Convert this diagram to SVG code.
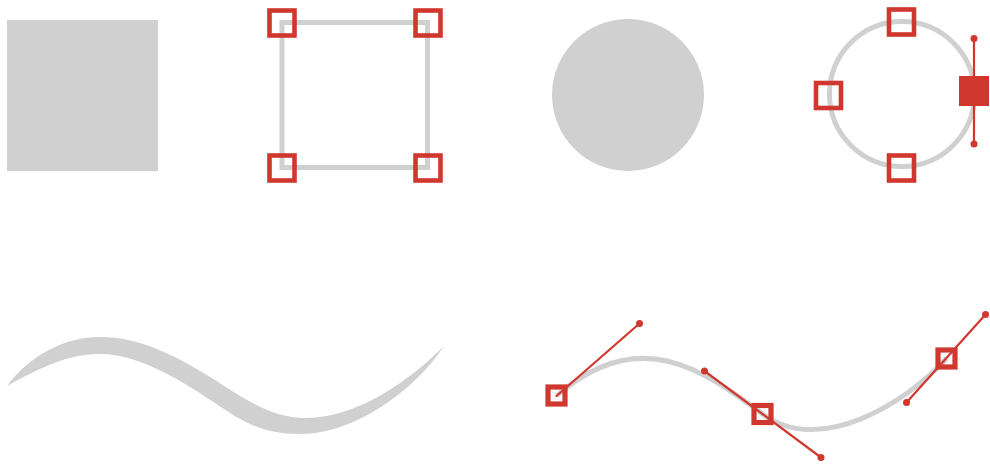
<svg xmlns="http://www.w3.org/2000/svg" width="990" height="464" viewBox="0 0 990 464">
<style>
.fill{fill:#d0d0d0;stroke:none}
.outline{fill:none;stroke:#d0d0d0;stroke-width:5}
.pt{fill:none;stroke:#d0382f;stroke-width:4.6}
.apt{fill:none;stroke:#d0382f;stroke-width:5.2}
.solid{fill:#d0382f;stroke:none}
.handle{stroke:#d0382f;stroke-width:2.2;fill:none;stroke-linecap:round}
.dot{fill:#d0382f}
</style>
<rect width="990" height="464" fill="#fff"/>
<g id="square-filled">
<rect class="fill" x="7" y="20" width="151" height="151"/>
</g>
<g id="square-path">
<rect class="outline" x="282" y="22.5" width="145.5" height="145"/>
<rect class="pt" x="269.5" y="10.5" width="25" height="25"/>
<rect class="pt" x="415.5" y="10.5" width="25" height="25"/>
<rect class="pt" x="269.5" y="155.5" width="25" height="25"/>
<rect class="pt" x="415.5" y="155.5" width="25" height="25"/>
</g>
<g id="circle-filled">
<circle class="fill" cx="628" cy="95" r="76"/>
</g>
<g id="circle-path">
<circle class="outline" cx="902" cy="94" r="72.5"/>
<rect class="pt" x="889" y="9.5" width="25" height="25"/>
<rect class="pt" x="816" y="83" width="25" height="25"/>
<rect class="pt" x="889" y="155.5" width="25" height="25"/>
<line class="handle" x1="974" y1="38.5" x2="974" y2="144"/>
<circle class="dot" cx="974" cy="38.5" r="3.5"/>
<circle class="dot" cx="974" cy="144" r="3.5"/>
<rect class="solid" x="959" y="76" width="30" height="30"/>
</g>
<g id="wave-filled">
<path class="fill" d="M7,386 C30,355 65,337 100,337 C140,337 175,355 215,380 C250,403 275,418 305,418 C350,418 400,390 444,346 C415,390 355,434 300,434 C260,434 240,420 215,403 C185,383 140,354 100,354 C70,354 45,365 7,386 Z"/>
</g>
<g id="wave-path">
<path class="outline" d="M556.5,396 C639,323 705,371 762.5,414 C821,457 907,402 946.5,358.5"/>
</g>
<g id="handles">
<line class="handle" x1="556.5" y1="396" x2="639.5" y2="323.5"/>
<circle class="dot" cx="639.5" cy="323.5" r="3.5"/>
<line class="handle" x1="704.5" y1="371" x2="821" y2="457.5"/>
<circle class="dot" cx="704.5" cy="371" r="3.5"/>
<circle class="dot" cx="821" cy="457.5" r="3.5"/>
<line class="handle" x1="906.5" y1="402.5" x2="985.5" y2="314.5"/>
<circle class="dot" cx="906.5" cy="402.5" r="3.5"/>
<circle class="dot" cx="985.5" cy="314.5" r="3.5"/>
</g>
<g id="anchor-1">
<rect class="apt" x="548" y="387" width="17" height="17"/>
</g>
<g id="anchor-2">
<rect class="apt" x="754" y="405.5" width="17" height="17"/>
</g>
<g id="anchor-3">
<rect class="apt" x="938" y="350" width="17" height="17"/>
</g>
</svg>
